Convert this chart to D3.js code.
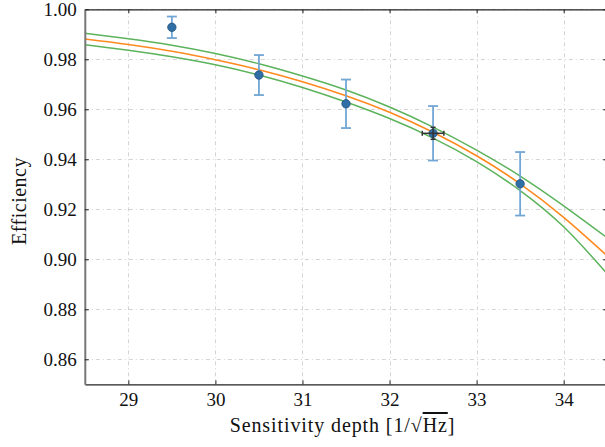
<!DOCTYPE html>
<html><head><meta charset="utf-8">
<script src="https://cdn.jsdelivr.net/npm/d3@7"></script>
<style>
html,body{margin:0;padding:0;background:#fff;}
svg{display:block;}
svg text{font-family:'Liberation Serif','DejaVu Serif',serif !important;}
</style></head>
<body><svg id="c" width="605" height="447"></svg>
<script>
// measured points
const depth = [29.5, 30.5, 31.5, 32.5, 33.5];
const efficiency = [0.9928, 0.9737, 0.9622, 0.9504, 0.9302];
const effError = [0.0043, 0.0080, 0.0097, 0.0109, 0.0127];
// reference point with x/y errors
const refDepth = [32.5];
const refEff = [0.9504];
const refDepthErr = [0.124];
const refEffErr = [0.0024];
// fitted curve and band (sampled)
const fitDepth = [28.5, 29.0, 29.5, 30.0, 30.5, 31.0, 31.5, 32.0, 32.5, 33.0, 33.5, 34.0, 34.5];
const fitCentral = [0.9881, 0.9859, 0.9832, 0.9798, 0.9758, 0.9710, 0.9654, 0.9588, 0.9508, 0.9414, 0.9302, 0.9168, 0.9014];
const fitUpper = [0.9904, 0.9882, 0.9856, 0.9823, 0.9782, 0.9733, 0.9677, 0.9609, 0.9529, 0.9437, 0.9333, 0.9214, 0.9086];
const fitLower = [0.9858, 0.9836, 0.9810, 0.9778, 0.9737, 0.9687, 0.9629, 0.9563, 0.9485, 0.9391, 0.9275, 0.9130, 0.8942];
const xTicks = [29, 30, 31, 32, 33, 34];
const yTicks = [0.86, 0.88, 0.90, 0.92, 0.94, 0.96, 0.98, 1.00];

const svg = d3.select("#c");
const L = 84.8, R = 607.2, T = 9.3, B = 384.3;
const x = d3.scaleLinear().domain([28.5, 34.5]).range([L, R]);
const y = d3.scaleLinear().domain([0.85, 1.00]).range([B, T]);

svg.append("defs").append("clipPath").attr("id","clip")
  .append("rect").attr("x",L).attr("y",T).attr("width",R-L).attr("height",B-T);

// grid
const grid = svg.append("g").attr("stroke","#d4d4d4").attr("stroke-width",1)
  .attr("stroke-dasharray","4,3,1,3");
xTicks.forEach(t=>grid.append("line").attr("x1",Math.round(x(t))+0.5).attr("x2",Math.round(x(t))+0.5).attr("y1",T).attr("y2",B));
yTicks.forEach(t=>grid.append("line").attr("y1",Math.round(y(t))+0.5).attr("y2",Math.round(y(t))+0.5).attr("x1",L).attr("x2",R));

// curves
const g = svg.append("g").attr("clip-path","url(#clip)");
const line = d3.line().x(d=>x(d[0])).y(d=>y(d[1])).curve(d3.curveNatural);
g.append("path").attr("d",line(fitDepth.map((d,i)=>[d,fitUpper[i]]))).attr("fill","none").attr("stroke","#5cb35c").attr("stroke-width",1.5);
g.append("path").attr("d",line(fitDepth.map((d,i)=>[d,fitLower[i]]))).attr("fill","none").attr("stroke","#5cb35c").attr("stroke-width",1.5);
g.append("path").attr("d",line(fitDepth.map((d,i)=>[d,fitCentral[i]]))).attr("fill","none").attr("stroke","#ff8a1f").attr("stroke-width",1.6);

// error bars
const eb = svg.append("g").attr("stroke","#72a6d4").attr("stroke-width",1.8);
depth.forEach((d,i)=>{
  const cx = x(d), y1 = y(efficiency[i]+effError[i]), y2 = y(efficiency[i]-effError[i]);
  eb.append("line").attr("x1",cx).attr("x2",cx).attr("y1",y1).attr("y2",y2);
  eb.append("line").attr("x1",cx-5).attr("x2",cx+5).attr("y1",y1).attr("y2",y1);
  eb.append("line").attr("x1",cx-5).attr("x2",cx+5).attr("y1",y2).attr("y2",y2);
});
// markers
svg.append("g").selectAll("circle").data(depth).join("circle")
  .attr("cx",d=>x(d)).attr("cy",(d,i)=>y(efficiency[i])).attr("r",4.2)
  .attr("fill","#2f6fa6").attr("stroke","#24507a").attr("stroke-width",0.8);

// reference point
const rg = svg.append("g").attr("stroke","#333").attr("stroke-width",1.5);
refDepth.forEach((d,i)=>{
  const cx=x(d), cy=y(refEff[i]);
  const xa=x(d-refDepthErr[i]), xb=x(d+refDepthErr[i]);
  const ya=y(refEff[i]+refEffErr[i]), yb=y(refEff[i]-refEffErr[i]);
  rg.append("line").attr("x1",xa).attr("x2",xb).attr("y1",cy).attr("y2",cy);
  rg.append("line").attr("x1",xa).attr("x2",xa).attr("y1",cy-2.5).attr("y2",cy+2.5);
  rg.append("line").attr("x1",xb).attr("x2",xb).attr("y1",cy-2.5).attr("y2",cy+2.5);
  rg.append("line").attr("x1",cx).attr("x2",cx).attr("y1",ya).attr("y2",yb);
  rg.append("line").attr("x1",cx-2.5).attr("x2",cx+2.5).attr("y1",ya).attr("y2",ya);
  rg.append("line").attr("x1",cx-2.5).attr("x2",cx+2.5).attr("y1",yb).attr("y2",yb);
});

// axes
const fmtY = d3.format(".2f");
const axB = svg.append("g").attr("transform",`translate(0,${B})`)
  .call(d3.axisBottom(x).tickValues(xTicks).tickSizeInner(-4).tickSizeOuter(0).tickPadding(8).tickFormat(d3.format("d")));
const axT = svg.append("g").attr("transform",`translate(0,${T})`)
  .call(d3.axisTop(x).tickValues(xTicks).tickSizeInner(-4).tickSizeOuter(0).tickFormat(""));
const axL = svg.append("g").attr("transform",`translate(${L},0)`)
  .call(d3.axisLeft(y).tickValues(yTicks).tickSizeInner(-4).tickSizeOuter(0).tickPadding(8).tickFormat(fmtY));
const axR = svg.append("g").attr("transform",`translate(${R},0)`)
  .call(d3.axisRight(y).tickValues(yTicks).tickSizeInner(-4).tickSizeOuter(0).tickFormat(""));
[axB,axT,axL,axR].forEach(a=>{
  a.attr("font-family","Liberation Serif").attr("font-size",19);
  a.select(".domain").attr("stroke","#222").attr("stroke-width",1.3);
  a.selectAll(".tick line").attr("stroke","#222");
  a.selectAll("text").attr("fill","#111");
});
axL.select(".domain").attr("stroke","#777").attr("stroke-width",2);

// labels
const xl = svg.append("text").attr("x",342.5).attr("y",432).attr("text-anchor","middle")
  .attr("font-size",20).attr("fill","#111").attr("letter-spacing",0.9);
xl.append("tspan").text("Sensitivity depth [1/√");
xl.append("tspan").style("text-decoration","overline").text("Hz");
xl.append("tspan").text("]");
svg.append("text").attr("transform","translate(26,201) rotate(-90)").attr("text-anchor","middle")
  .attr("font-size",20).attr("fill","#111").attr("letter-spacing",0.5).text("Efficiency");
</script></body></html>
